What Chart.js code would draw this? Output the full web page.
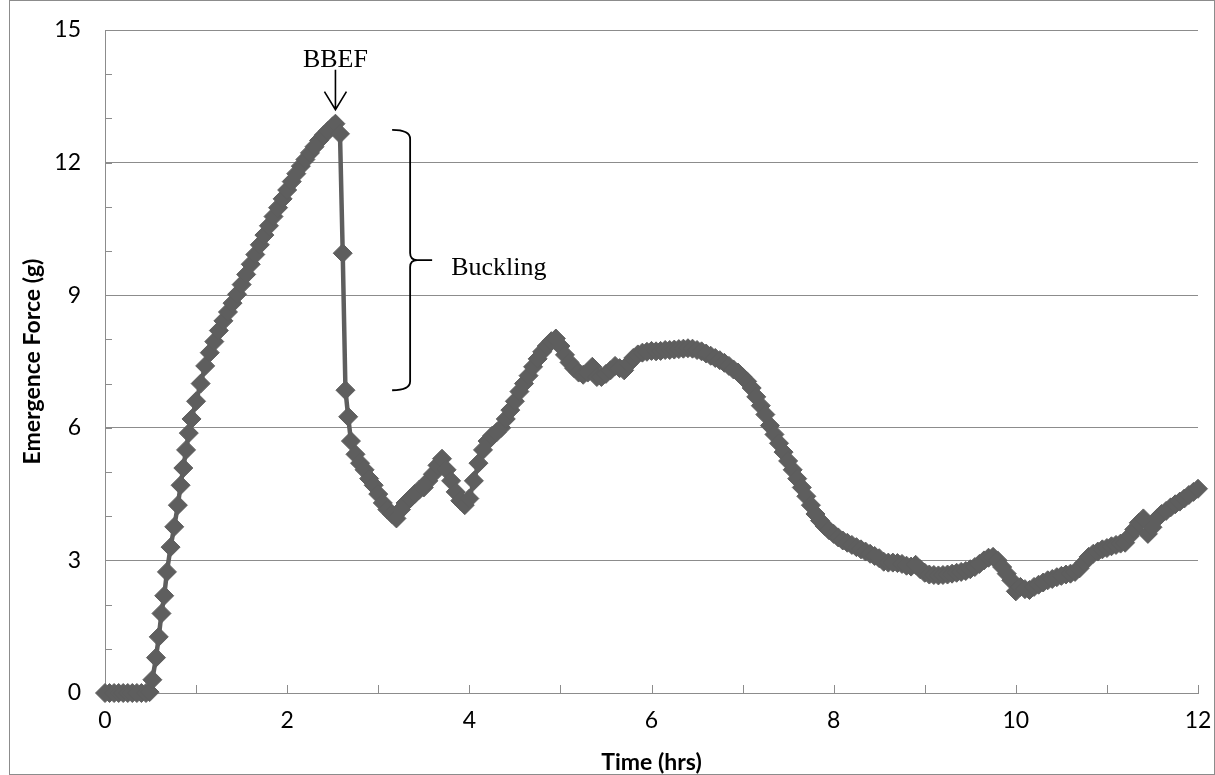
<!DOCTYPE html>
<html>
<head>
<meta charset="utf-8">
<title>Emergence Force</title>
<script src="https://cdn.jsdelivr.net/npm/chart.js@4.4.0/dist/chart.umd.min.js"></script>
<style>
    html, body { margin: 0; padding: 0; background: #ffffff; }
    canvas { display: block; }
</style>
</head>
<body>
<canvas id="forceChart" width="1215" height="775"></canvas>
<script>
// Emergence force vs time

// Time stamps (hrs)
const timeHrs = [
    0, 0.05, 0.1, 0.15, 0.2, 0.25, 0.3, 0.35, 0.4, 0.45,
    0.49, 0.52, 0.56, 0.59, 0.62, 0.65, 0.68, 0.72, 0.76, 0.8,
    0.83, 0.86, 0.89, 0.92, 0.95,
    1, 1.05, 1.1, 1.15, 1.2, 1.25, 1.3, 1.35, 1.4, 1.45,
    1.5, 1.55, 1.6, 1.65, 1.7, 1.75, 1.8, 1.85, 1.9, 1.95,
    2, 2.05, 2.1, 2.15, 2.2, 2.25, 2.3, 2.35, 2.4, 2.45,
    2.5, 2.53, 2.58, 2.61, 2.64, 2.67,
    2.7, 2.75, 2.8, 2.85, 2.9, 2.95,
    3, 3.05, 3.1, 3.15, 3.2, 3.25, 3.3, 3.35, 3.4, 3.45,
    3.5, 3.55, 3.6, 3.65, 3.7, 3.75, 3.8, 3.85, 3.9, 3.95,
    4, 4.05, 4.1, 4.15, 4.2, 4.25, 4.3, 4.35, 4.4, 4.45,
    4.5, 4.55, 4.6, 4.65, 4.7, 4.75, 4.8, 4.85, 4.9, 4.95,
    5, 5.05, 5.1, 5.15, 5.2, 5.25, 5.3, 5.35, 5.4, 5.45,
    5.5, 5.55, 5.6, 5.65, 5.7, 5.75, 5.8, 5.85, 5.9, 5.95,
    6, 6.05, 6.1, 6.15, 6.2, 6.25, 6.3, 6.35, 6.4, 6.45,
    6.5, 6.55, 6.6, 6.65, 6.7, 6.75, 6.8, 6.85, 6.9, 6.95,
    7, 7.05, 7.1, 7.15, 7.2, 7.25, 7.3, 7.35, 7.4, 7.45,
    7.5, 7.55, 7.6, 7.65, 7.7, 7.75, 7.8, 7.85, 7.9, 7.95,
    8, 8.05, 8.1, 8.15, 8.2, 8.25, 8.3, 8.35, 8.4, 8.45,
    8.5, 8.55, 8.6, 8.65, 8.7, 8.75, 8.8, 8.85, 8.9, 8.95,
    9, 9.05, 9.1, 9.15, 9.2, 9.25, 9.3, 9.35, 9.4, 9.45,
    9.5, 9.55, 9.6, 9.65, 9.7, 9.75, 9.8, 9.85, 9.9, 9.95,
    10, 10.05, 10.1, 10.15, 10.2, 10.25, 10.3, 10.35, 10.4, 10.45,
    10.5, 10.55, 10.6, 10.65, 10.7, 10.75, 10.8, 10.85, 10.9, 10.95,
    11, 11.05, 11.1, 11.15, 11.2, 11.25, 11.3, 11.35, 11.4, 11.45,
    11.5, 11.55, 11.6, 11.65, 11.7, 11.75, 11.8, 11.85, 11.9, 11.95,
    12
];

// Emergence force (g), same order as timeHrs
const forceG = [
    0, 0, 0, 0, 0, 0, 0, 0, 0, 0,
    0.02, 0.3, 0.8, 1.27, 1.8, 2.2, 2.74, 3.3, 3.76, 4.25,
    4.7, 5.09, 5.5, 5.88, 6.2,
    6.6, 7.0, 7.4, 7.7, 7.95, 8.2, 8.42, 8.62, 8.82, 9.02,
    9.24, 9.47, 9.7, 9.92, 10.14, 10.36, 10.57, 10.78, 10.98, 11.18,
    11.38, 11.57, 11.75, 11.92, 12.07, 12.22, 12.36, 12.5, 12.62, 12.72,
    12.82, 12.88, 12.65, 9.95, 6.85, 6.25,
    5.7, 5.4, 5.2, 5.05, 4.85, 4.7,
    4.5, 4.3, 4.15, 4.05, 3.95, 4.15, 4.3, 4.4, 4.5, 4.6,
    4.65, 4.8, 4.95, 5.15, 5.3, 5.05, 4.8, 4.55, 4.35, 4.25,
    4.4, 4.8, 5.2, 5.5, 5.7, 5.82, 5.9, 6.0, 6.2, 6.4,
    6.6, 6.82, 7.0, 7.18, 7.38, 7.56, 7.72, 7.85, 7.96, 8.02,
    7.85, 7.65, 7.48, 7.35, 7.25, 7.2, 7.25, 7.38, 7.15, 7.15,
    7.22, 7.3, 7.4, 7.35, 7.3, 7.45, 7.58, 7.66, 7.7, 7.72,
    7.74, 7.73, 7.74, 7.76, 7.76, 7.77, 7.78, 7.79, 7.8, 7.79,
    7.76, 7.73, 7.68, 7.63, 7.58, 7.53, 7.47, 7.4, 7.32, 7.25,
    7.15, 7.05, 6.9, 6.7, 6.5, 6.3, 6.05, 5.85, 5.65, 5.45,
    5.25, 5.05, 4.85, 4.65, 4.45, 4.25, 4.05, 3.9, 3.78, 3.68,
    3.6, 3.52, 3.45, 3.4, 3.35, 3.3, 3.25, 3.2, 3.15, 3.1,
    3.05, 2.97, 2.95, 2.95, 2.94, 2.92, 2.88, 2.86, 2.9, 2.8,
    2.72, 2.68, 2.67, 2.66, 2.67, 2.68, 2.7, 2.72, 2.74, 2.76,
    2.8, 2.85, 2.92, 3.0, 3.06, 3.08, 3.0, 2.85, 2.7, 2.55,
    2.3, 2.4, 2.35, 2.33, 2.4, 2.45, 2.5, 2.55, 2.58, 2.62,
    2.65, 2.68, 2.7, 2.74, 2.82, 2.95, 3.08, 3.15, 3.2, 3.25,
    3.28, 3.32, 3.35, 3.38, 3.4, 3.55, 3.7, 3.85, 3.95, 3.6,
    3.75, 3.95, 4.05, 4.12, 4.2, 4.27, 4.33, 4.4, 4.48, 4.55,
    4.62
];

// Tick labels shown on the axes
const xTickLabels = [0, 2, 4, 6, 8, 10, 12];
const yTickLabels = [0, 3, 6, 9, 12, 15];

// Annotations (in data units)
const peakTime = 2.53;
const peakForce = 12.88;
const braceTime = 3.35;
const braceTop = 12.74;
const braceBottom = 6.85;

const colors = {
    series: '#5e5e5e',
    grid: '#8c8c8c',
    axis: '#8c8c8c',
    text: '#000000'
};

const axisFont = "Lato, 'Open Sans', sans-serif";
const noteFont = "'Liberation Serif', 'Times New Roman', serif";

const points = timeHrs.map((t, i) => ({ x: t, y: forceG[i] }));

// White background + outer chart frame
const framePlugin = {
    id: 'frame',
    beforeDraw(chart) {
        const c = chart.ctx;
        c.save();
        c.fillStyle = '#ffffff';
        c.fillRect(0, 0, chart.width, chart.height);
        c.strokeStyle = colors.axis;
        c.lineWidth = 1;
        c.strokeRect(9.5, 0.5, chart.width - 10, chart.height - 1);
        c.restore();
    }
};

// Small tick marks pointing into the plot (every 1 unit on both axes)
const innerTicksPlugin = {
    id: 'innerTicks',
    beforeDatasetsDraw(chart) {
        const c = chart.ctx;
        const xs = chart.scales.x;
        const ys = chart.scales.y;
        const area = chart.chartArea;
        c.save();
        c.strokeStyle = colors.axis;
        c.lineWidth = 1;
        c.beginPath();
        xs.ticks.forEach(t => {
            if (t.value === 0) return;
            const px = Math.round(xs.getPixelForValue(t.value)) + 0.5;
            c.moveTo(px, area.bottom);
            c.lineTo(px, area.bottom - 8);
        });
        ys.ticks.forEach(t => {
            if (t.value === 0) return;
            const py = Math.round(ys.getPixelForValue(t.value)) + 0.5;
            c.moveTo(area.left, py);
            c.lineTo(area.left + 7, py);
        });
        c.stroke();
        c.restore();
    }
};

// BBEF arrow and Buckling brace
const notesPlugin = {
    id: 'notes',
    afterDatasetsDraw(chart) {
        const c = chart.ctx;
        const xs = chart.scales.x;
        const ys = chart.scales.y;
        c.save();
        c.strokeStyle = '#000000';
        c.fillStyle = '#000000';
        c.lineWidth = 1.6;

        // arrow to the peak
        const px = xs.getPixelForValue(peakTime);
        const py = ys.getPixelForValue(peakForce);
        const tipY = py - 14;
        c.beginPath();
        c.moveTo(px, py - 54);
        c.lineTo(px, tipY);
        c.moveTo(px - 11, tipY - 18);
        c.lineTo(px, tipY);
        c.lineTo(px + 11, tipY - 18);
        c.stroke();
        c.font = '26px ' + noteFont;
        c.textAlign = 'center';
        c.textBaseline = 'alphabetic';
        c.fillText('BBEF', px, py - 57);

        // curly brace over the drop
        const bx = xs.getPixelForValue(braceTime);
        const top = ys.getPixelForValue(braceTop);
        const bottom = ys.getPixelForValue(braceBottom);
        const mid = (top + bottom) / 2;
        c.lineWidth = 1.8;
        c.beginPath();
        c.moveTo(bx - 18, top);
        c.quadraticCurveTo(bx, top, bx, top + 9);
        c.lineTo(bx, mid - 7);
        c.quadraticCurveTo(bx, mid, bx + 7, mid);
        c.lineTo(bx + 22, mid);
        c.moveTo(bx + 7, mid);
        c.quadraticCurveTo(bx, mid, bx, mid + 7);
        c.lineTo(bx, bottom - 9);
        c.quadraticCurveTo(bx, bottom, bx - 18, bottom);
        c.stroke();
        c.textAlign = 'left';
        c.fillText('Buckling', bx + 41, mid + 15);
        c.restore();
    }
};

const ctx = document.getElementById('forceChart').getContext('2d');

new Chart(ctx, {
    type: 'scatter',
    data: {
        datasets: [{
            label: 'Emergence Force',
            data: points,
            showLine: true,
            tension: 0,
            borderColor: colors.series,
            backgroundColor: colors.series,
            borderWidth: 4.5,
            pointStyle: 'rectRot',
            pointRadius: 9.5,
            pointBorderWidth: 1,
            pointBorderColor: colors.series,
            pointBackgroundColor: colors.series,
            clip: false
        }]
    },
    options: {
        responsive: false,
        animation: false,
        events: [],
        layout: {
            autoPadding: false,
            padding: { left: 0, right: 17, top: 30, bottom: 0 }
        },
        plugins: {
            legend: { display: false },
            tooltip: { enabled: false }
        },
        scales: {
            x: {
                type: 'linear',
                min: 0,
                max: 12,
                afterFit: function(scale) {
                    scale.height = 82;
                    scale.paddingLeft = 0;
                    scale.paddingRight = 0;
                },
                grid: { color: 'rgba(0,0,0,0)', drawTicks: false },
                border: { color: colors.axis, width: 1 },
                ticks: {
                    stepSize: 1,
                    autoSkip: false,
                    maxRotation: 0,
                    padding: 14,
                    color: colors.text,
                    font: { family: axisFont, size: 23 },
                    callback: function(value) {
                        return xTickLabels.includes(value) ? String(value) : '';
                    }
                },
                title: {
                    display: true,
                    text: 'Time (hrs)',
                    color: colors.text,
                    font: { family: axisFont, size: 23, weight: 'bold', lineHeight: 1 },
                    padding: { top: 0, bottom: 1 }
                }
            },
            y: {
                type: 'linear',
                min: 0,
                max: 15,
                afterFit: function(scale) {
                    scale.width = 105;
                    scale.paddingTop = 0;
                    scale.paddingBottom = 0;
                },
                grid: {
                    drawTicks: false,
                    color: function(context) {
                        return yTickLabels.includes(context.tick.value) ? colors.grid : 'rgba(0,0,0,0)';
                    }
                },
                border: { color: colors.axis, width: 1 },
                ticks: {
                    stepSize: 1,
                    autoSkip: false,
                    padding: 24,
                    color: colors.text,
                    font: { family: axisFont, size: 23 },
                    callback: function(value) {
                        return yTickLabels.includes(value) ? String(value) : '';
                    }
                },
                title: {
                    display: true,
                    text: 'Emergence Force (g)',
                    color: colors.text,
                    font: { family: axisFont, size: 23, weight: 'bold', lineHeight: 1.2 },
                    padding: { top: 19, bottom: 0 }
                }
            }
        }
    },
    plugins: [framePlugin, innerTicksPlugin, notesPlugin]
});
</script>
</body>
</html>
